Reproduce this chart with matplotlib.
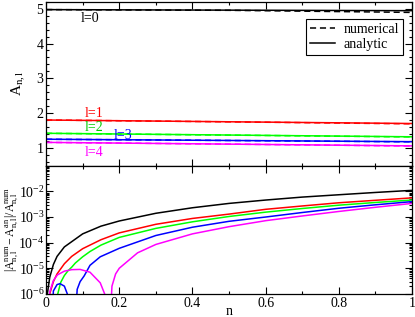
import numpy as np
import matplotlib
matplotlib.use('Agg')
import matplotlib.pyplot as plt
from matplotlib.ticker import MultipleLocator, FixedLocator, FuncFormatter, LogLocator, NullFormatter

plt.rcParams['font.family'] = ['Liberation Serif', 'DejaVu Serif']
plt.rcParams['mathtext.fontset'] = 'custom'
plt.rcParams['mathtext.rm'] = 'Liberation Serif'
plt.rcParams['mathtext.it'] = 'Liberation Serif:italic'
plt.rcParams['font.size'] = 10

# top panel: A_{n,l} vs n
n_top = [0.0, 0.5, 1.0]
ana_l0 = [4.97, 4.955, 4.94]
num_l0 = [4.97, 4.95, 4.89]
ana_l1 = [1.81, 1.76, 1.71]
num_l1 = [1.81, 1.758, 1.70]
ana_l2 = [1.43, 1.38, 1.33]
num_l2 = [1.43, 1.378, 1.325]
ana_l3 = [1.26, 1.225, 1.19]
num_l3 = [1.26, 1.224, 1.185]
ana_l4 = [1.17, 1.12, 1.07]
num_l4 = [1.17, 1.12, 1.066]

# bottom panel: relative error |A_num - A_an| / A_num
n_err0 = [0.0035, 0.005, 0.01, 0.02, 0.03, 0.05, 0.1, 0.15, 0.2, 0.3, 0.4, 0.5, 0.6, 0.7, 0.8, 0.9, 1.0]
err0 = [1e-6, 1.4e-6, 4.4e-6, 1.4e-5, 2.9e-5, 6.8e-5, 2.2e-4, 4.4e-4, 7.0e-4, 1.4e-3, 2.3e-3, 3.4e-3, 4.6e-3, 6.0e-3, 7.4e-3, 9.1e-3, 1.1e-2]

n_err1 = [0.007, 0.01, 0.02, 0.03, 0.05, 0.07, 0.1, 0.15, 0.2, 0.3, 0.4, 0.5, 0.6, 0.7, 0.8, 0.9, 1.0]
err1 = [1e-8, 1.0e-6, 3.0e-6, 6.0e-6, 1.5e-5, 2.9e-5, 5.8e-5, 1.3e-4, 2.4e-4, 5.2e-4, 8.8e-4, 1.3e-3, 2.0e-3, 2.7e-3, 3.6e-3, 4.5e-3, 5.6e-3]

n_err2 = [0.028, 0.032, 0.04, 0.05, 0.06, 0.07, 0.08, 0.1, 0.12, 0.15, 0.2, 0.3, 0.4, 0.5, 0.6, 0.7, 0.8, 0.9, 1.0]
err2 = [1e-8, 1.0e-6, 2.8e-6, 5.2e-6, 8.0e-6, 1.1e-5, 1.6e-5, 2.8e-5, 4.5e-5, 8.0e-5, 1.6e-4, 3.6e-4, 6.5e-4, 1.05e-3, 1.55e-3, 2.15e-3, 2.9e-3, 3.7e-3, 4.6e-3]

n_err3 = [0.013, 0.02, 0.03, 0.038, 0.05, 0.058, 0.063, 0.076, 0.085, 0.093, 0.104, 0.12, 0.148, 0.2, 0.3, 0.4, 0.5, 0.6, 0.7, 0.8, 0.9, 1.0]
err3 = [1e-8, 1.3e-6, 2.3e-6, 2.5e-6, 2.0e-6, 1.0e-6, 1e-8, 1e-8, 1.5e-6, 3.0e-6, 5.0e-6, 1.3e-5, 2.8e-5, 6.0e-5, 1.9e-4, 4.0e-4, 6.8e-4, 1.0e-3, 1.5e-3, 2.2e-3, 3.0e-3, 4.0e-3]

n_err4 = [0.005, 0.01, 0.02, 0.031, 0.05, 0.07, 0.093, 0.12, 0.148, 0.16, 0.168, 0.172, 0.18, 0.19, 0.2, 0.25, 0.3, 0.4, 0.5, 0.6, 0.7, 0.8, 0.9, 1.0]
err4 = [1e-8, 1.2e-6, 3.3e-6, 5.5e-6, 7.7e-6, 8.8e-6, 9.0e-6, 7.0e-6, 2.7e-6, 1.0e-6, 1e-8, 1e-8, 2.0e-6, 6.0e-6, 1.0e-5, 4.0e-5, 8.5e-5, 2.2e-4, 4.2e-4, 7.2e-4, 1.1e-3, 1.65e-3, 2.4e-3, 3.4e-3]

labels_l = ['l=0', 'l=1', 'l=2', 'l=3', 'l=4']
colors = ['#000000', '#ff0000', '#00ff00', '#0000ff', '#ff00ff']
txt_colors = ['#000000', '#ff0000', '#00cc00', '#0000ff', '#ff00ff']

fig = plt.figure(figsize=(4.15, 3.17), dpi=100)
ax1 = fig.add_axes([0.111, 0.477, 0.882, 0.518])
ax2 = fig.add_axes([0.111, 0.073, 0.882, 0.404])

# 上面板
ana = [ana_l0, ana_l1, ana_l2, ana_l3, ana_l4]
num = [num_l0, num_l1, num_l2, num_l3, num_l4]
for i in range(5):
    ax1.plot(n_top, ana[i], color=colors[i], lw=1.1)
    ax1.plot(n_top, num[i], color=colors[i], lw=1.1, ls=(0, (4, 2.5)))
ax1.set_xlim(0, 1)
ax1.set_ylim(0.5, 5.2)
ax1.set_ylabel(r'$\mathrm{A_{n,l}}$', fontsize=11)
ax1.yaxis.set_label_coords(-0.05, 0.5)

txt_x = [0.12, 0.13, 0.13, 0.21, 0.13]
txt_y = [4.71, 2.0, 1.6, 1.37, 0.87]
for i in range(5):
    ax1.text(txt_x[i], txt_y[i], labels_l[i], color=txt_colors[i], ha='center', va='center', fontsize=10)

h1, = ax1.plot([], [], color='k', lw=1.1, ls=(0, (4, 2.5)), label='numerical')
h2, = ax1.plot([], [], color='k', lw=1.1, label='analytic')
leg = ax1.legend(handles=[h1, h2], loc='upper right', bbox_to_anchor=(0.975, 0.893),
                 borderaxespad=0, fancybox=False, framealpha=1, edgecolor='k',
                 handlelength=1.8, handletextpad=0.6, borderpad=0.3, labelspacing=0.1, fontsize=10)
leg.get_frame().set_linewidth(0.8)

# 下面板
ns = [n_err0, n_err1, n_err2, n_err3, n_err4]
errs = [err0, err1, err2, err3, err4]
for i in range(5):
    ax2.plot(ns[i], errs[i], color=colors[i], lw=1.1)
ax2.set_yscale('log')
ax2.set_xlim(0, 1)
ax2.set_ylim(1e-6, 1e-1)
ax2.yaxis.set_major_locator(FixedLocator([1e-6, 1e-5, 1e-4, 1e-3, 1e-2]))
ax2.yaxis.set_minor_locator(LogLocator(base=10, subs=np.arange(2, 10), numticks=20))
ax2.yaxis.set_minor_formatter(NullFormatter())
ax2.yaxis.set_major_formatter(FuncFormatter(lambda v, p: r'$\mathrm{10^{%d}}$' % round(np.log10(v))))
ax2.set_ylabel(r'$\mathrm{|A^{num}_{n,l}-A^{an}_{n,l}|/A^{num}_{n,l}}$', fontsize=8.5)
ax2.yaxis.set_label_coords(-0.072, 0.5)
ax2.set_xlabel('n', labelpad=-3)
ax2.xaxis.set_major_formatter(FuncFormatter(lambda v, p: '%g' % v))

for ax in (ax1, ax2):
    ax.xaxis.set_major_locator(MultipleLocator(0.2))
    ax.xaxis.set_minor_locator(MultipleLocator(0.1))
    ax.tick_params(which='both', direction='in', top=True, right=True, width=0.8, labelsize=10, pad=2)
    ax.tick_params(which='major', length=5)
    ax.tick_params(which='minor', length=2.5)
    for s in ax.spines.values():
        s.set_linewidth(0.9)
ax1.yaxis.set_major_locator(MultipleLocator(1))
ax1.yaxis.set_minor_locator(MultipleLocator(0.2))
ax1.tick_params(labelbottom=False)
ax2.tick_params(axis='y', pad=1)

plt.savefig('out.png', dpi=100)
